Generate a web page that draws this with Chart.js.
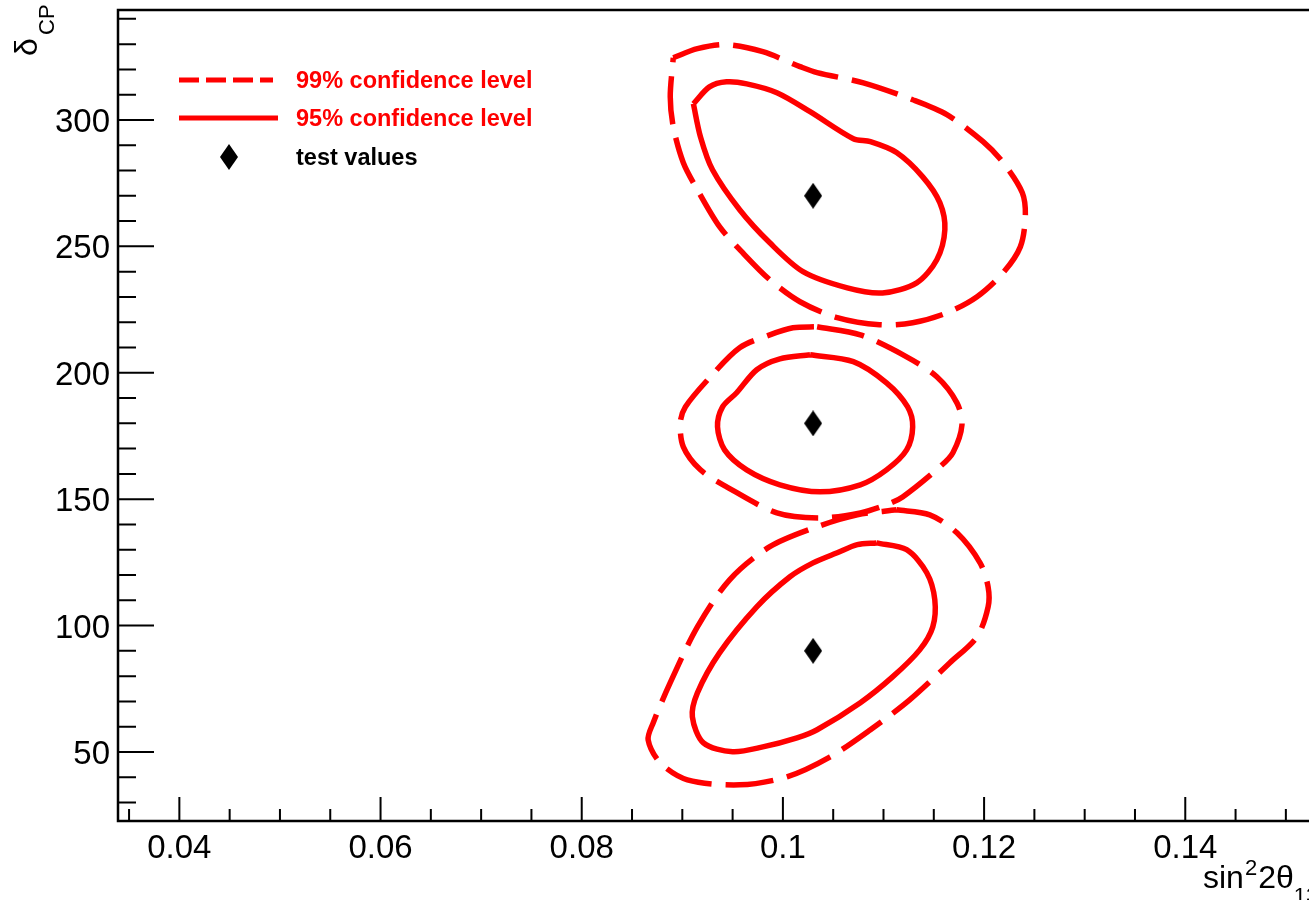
<!DOCTYPE html>
<html>
<head>
<meta charset="utf-8">
<script src="https://cdn.jsdelivr.net/npm/chart.js@4.4.1/dist/chart.umd.min.js"></script>
<style>
  html, body { margin: 0; padding: 0; background: #fff; }
</style>
</head>
<body>
<canvas id="chart" width="1309" height="900"></canvas>
<script>
// axis ranges and ticks (sin^2 2theta13 vs deltaCP)
const X_MIN = 0.0339, X_MAX = 0.1523;
const Y_MIN = 22.7, Y_MAX = 343.5;
const X_MINOR = [0.035, 0.04, 0.045, 0.05, 0.055, 0.06, 0.065, 0.07, 0.075, 0.08, 0.085, 0.09,
  0.095, 0.1, 0.105, 0.11, 0.115, 0.12, 0.125, 0.13, 0.135, 0.14, 0.145, 0.15];
const X_MAJOR = [0.04, 0.06, 0.08, 0.1, 0.12, 0.14];
const X_LABELS = ['0.04', '0.06', '0.08', '0.1', '0.12', '0.14'];
const Y_MINOR = [30, 40, 50, 60, 70, 80, 90, 100, 110, 120, 130, 140, 150, 160, 170, 180, 190,
  200, 210, 220, 230, 240, 250, 260, 270, 280, 290, 300, 310, 320, 330, 340];
const Y_MAJOR = [50, 100, 150, 200, 250, 300];
const Y_LABELS = ['50', '100', '150', '200', '250', '300'];

// test points
const TEST_X = [0.103, 0.103, 0.103];
const TEST_Y = [270, 180, 90];

// contours [sin^2 2theta13, deltaCP]
const TOP_95 = [[0.0911,306.4],[0.0927,313.1],[0.0944,315.1],[0.0964,314.3],[0.0994,310.8],[0.1027,303.3],
  [0.1070,292.6],[0.1087,291.4],[0.1113,287.1],[0.1139,277.5],[0.1156,267.3],[0.1161,256.6],[0.1153,244.7],
  [0.1133,235.6],[0.1099,231.6],[0.1064,233.6],[0.1020,240.0],[0.0987,251.4],[0.0957,264.5],[0.0930,280.3],
  [0.0918,293.4],[0.0911,306.4]];
const TOP_99 = [[0.0891,324.6],[0.0915,328.2],[0.0944,329.8],[0.0980,327.0],[0.1017,321.1],[0.1034,318.7],
  [0.1080,314.7],[0.1129,308.0],[0.1163,302.1],[0.1199,291.4],[0.1219,283.1],[0.1238,271.2],[0.1241,261.7],
  [0.1236,249.8],[0.1219,239.6],[0.1193,230.1],[0.1163,223.7],[0.1129,219.8],[0.1096,219.0],[0.1054,221.8],
  [0.1017,228.1],[0.0987,236.8],[0.0960,247.5],[0.0937,257.8],[0.0915,272.4],[0.0901,283.1],[0.0891,297.3],
  [0.0888,309.2],[0.0891,324.6]];
const MID_95 = [[0.1027,207.1],[0.1070,204.4],[0.1103,196.0],[0.1124,186.5],[0.1129,178.6],[0.1123,169.5],
  [0.1103,161.6],[0.1077,155.7],[0.1037,152.9],[0.0997,155.7],[0.0964,161.6],[0.0942,169.5],[0.0935,178.6],
  [0.0940,186.5],[0.0954,192.1],[0.0974,201.2],[0.0997,205.5],[0.1027,207.1]];
const MID_99 = [[0.1034,218.2],[0.1077,215.0],[0.1123,206.3],[0.1153,198.4],[0.1173,188.1],[0.1178,179.4],
  [0.1169,168.4],[0.1156,162.8],[0.1119,150.9],[0.1103,147.8],[0.1077,144.6],[0.1037,142.6],[0.0994,144.6],
  [0.0944,154.9],[0.0918,161.6],[0.0901,170.7],[0.0898,180.2],[0.0903,186.5],[0.0927,198.0],[0.0957,209.9],
  [0.0987,215.0],[0.1010,217.8],[0.1034,218.2]];
const BOT_95 = [[0.1093,132.7],[0.1123,130.0],[0.1143,120.9],[0.1151,110.2],[0.1149,99.5],[0.1136,90.4],
  [0.1109,79.7],[0.1077,69.5],[0.1034,58.8],[0.1014,55.6],[0.0980,52.0],[0.0950,50.1],[0.0921,53.6],
  [0.0910,63.9],[0.0915,73.4],[0.0937,89.2],[0.0974,107.4],[0.1007,119.3],[0.1030,124.8],[0.1054,128.8],
  [0.1074,132.0],[0.1093,132.7]];
const BOT_99 = [[0.1113,145.8],[0.1146,143.8],[0.1173,136.7],[0.1196,124.8],[0.1204,115.3],[0.1204,107.4],
  [0.1193,95.6],[0.1166,85.3],[0.1126,70.6],[0.1087,58.8],[0.1047,48.1],[0.1004,40.2],[0.0957,37.0],
  [0.0905,39.0],[0.0878,45.7],[0.0866,54.8],[0.0871,61.5],[0.0888,77.4],[0.0915,99.5],[0.0947,118.1],
  [0.0987,131.2],[0.1034,139.1],[0.1074,143.8],[0.1113,145.8]];

const RED = '#ff0000';
const FONT = "'Liberation Sans', Arial, Helvetica, sans-serif";

// elongated diamond marker
function diamond(w, h) {
  const c = document.createElement('canvas');
  c.width = w; c.height = h;
  const g = c.getContext('2d');
  g.fillStyle = '#000';
  g.beginPath();
  g.moveTo(w / 2, 0); g.lineTo(w, h / 2); g.lineTo(w / 2, h); g.lineTo(0, h / 2);
  g.closePath(); g.fill();
  return c;
}
const DIAMOND = diamond(18, 26);

const pts = (arr) => arr.map(([x, y]) => ({ x, y }));
const cl99 = (arr) => ({ data: pts(arr), showLine: true, borderColor: RED, borderWidth: 5.5, borderDash: [48, 14], pointRadius: 0, tension: 0.3, fill: false });
const cl95 = (arr) => ({ data: pts(arr), showLine: true, borderColor: RED, borderWidth: 5.5, pointRadius: 0, tension: 0.3, fill: false });

const near = (list, v) => list.some((m) => Math.abs(m - v) < 1e-9);

const rootFrame = {
  id: 'rootFrame',
  afterDraw(chart) {
    const { ctx, chartArea: a, scales: { x, y } } = chart;
    ctx.save();
    ctx.strokeStyle = '#000';
    ctx.lineWidth = 2.5;
    ctx.beginPath();
    ctx.moveTo(a.right + 5, a.top); ctx.lineTo(a.left, a.top); ctx.lineTo(a.left, a.bottom); ctx.lineTo(a.right + 5, a.bottom);
    ctx.stroke();

    // inward ticks
    ctx.lineWidth = 2;
    ctx.beginPath();
    X_MINOR.forEach((v) => {
      const px = x.getPixelForValue(v);
      const len = near(X_MAJOR, v) ? 24 : 12;
      ctx.moveTo(px, a.bottom); ctx.lineTo(px, a.bottom - len);
    });
    Y_MINOR.forEach((v) => {
      const py = y.getPixelForValue(v);
      const len = near(Y_MAJOR, v) ? 36 : 18;
      ctx.moveTo(a.left, py); ctx.lineTo(a.left + len, py);
    });
    ctx.stroke();

    // tick labels
    ctx.fillStyle = '#000';
    ctx.font = '33px ' + FONT;
    ctx.textBaseline = 'alphabetic';
    ctx.textAlign = 'center';
    X_MAJOR.forEach((v, i) => ctx.fillText(X_LABELS[i], x.getPixelForValue(v), a.bottom + 37));
    ctx.textAlign = 'right';
    Y_MAJOR.forEach((v, i) => ctx.fillText(Y_LABELS[i], a.left - 8, y.getPixelForValue(v) + 12));

    // x title: sin^2 2theta_13
    ctx.textAlign = 'left';
    let tx = 1203;
    ctx.font = '32px ' + FONT; ctx.fillText('sin', tx, 888); tx += ctx.measureText('sin').width + 1;
    ctx.font = '22px ' + FONT; ctx.fillText('2', tx, 875); tx += ctx.measureText('2').width + 1;
    ctx.font = '32px ' + FONT; ctx.fillText('2\u03b8', tx, 888); tx += ctx.measureText('2\u03b8').width;
    ctx.font = '22px ' + FONT; ctx.fillText('13', tx, 903);

    // y title: delta_CP (rotated)
    ctx.save();
    ctx.rotate(-Math.PI / 2);
    ctx.font = '32px ' + FONT; ctx.fillText('\u03b4', -56, 37);
    ctx.font = '22px ' + FONT; ctx.fillText('CP', -35, 54);
    ctx.restore();

    // legend
    ctx.strokeStyle = RED;
    ctx.lineWidth = 5;
    ctx.setLineDash([20, 7]);
    ctx.beginPath(); ctx.moveTo(179, 80); ctx.lineTo(273, 80); ctx.stroke();
    ctx.setLineDash([]);
    ctx.beginPath(); ctx.moveTo(179, 118); ctx.lineTo(278, 118); ctx.stroke();
    ctx.drawImage(DIAMOND, 229 - 9, 157 - 13);
    ctx.font = 'bold 23.5px ' + FONT;
    ctx.fillStyle = RED;
    ctx.fillText('99% confidence level', 296, 88);
    ctx.fillText('95% confidence level', 296, 126);
    ctx.fillStyle = '#000';
    ctx.fillText('test values', 296, 165);
    ctx.restore();
  }
};

new Chart(document.getElementById('chart'), {
  type: 'scatter',
  data: {
    datasets: [
      cl99(TOP_99), cl95(TOP_95),
      cl99(MID_99), cl95(MID_95),
      cl99(BOT_99), cl95(BOT_95),
      { data: TEST_X.map((v, i) => ({ x: v, y: TEST_Y[i] })), pointStyle: DIAMOND, pointRadius: 13, showLine: false }
    ]
  },
  options: {
    responsive: false,
    animation: false,
    events: [],
    layout: { autoPadding: false, padding: { left: 118, top: 10, right: 0, bottom: 79 } },
    plugins: { legend: { display: false }, tooltip: { enabled: false } },
    scales: {
      x: { type: 'linear', min: X_MIN, max: X_MAX, display: false },
      y: { type: 'linear', min: Y_MIN, max: Y_MAX, display: false }
    }
  },
  plugins: [rootFrame]
});
</script>
</body>
</html>
